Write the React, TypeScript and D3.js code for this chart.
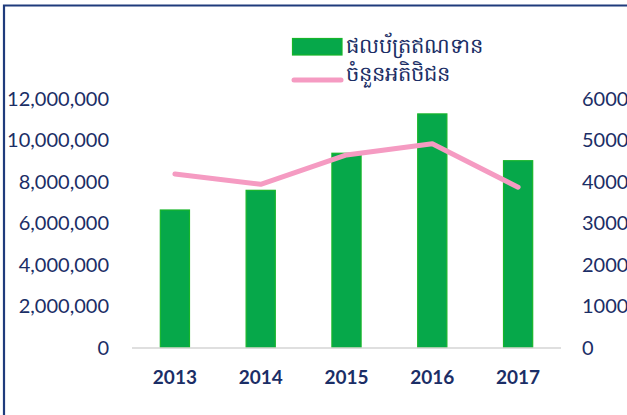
import React, { useEffect, useRef } from 'react';
import * as d3 from 'd3';

const years = ['2013', '2014', '2015', '2016', '2017'];
// loan portfolio (left axis)
const loanValues = [6640000, 7590000, 9380000, 11280000, 9020000];
// number of customers (right axis)
const customerValues = [4190, 3940, 4650, 4920, 3870];
const leftTicks = [0, 2000000, 4000000, 6000000, 8000000, 10000000, 12000000];
const rightTicks = [0, 1000, 2000, 3000, 4000, 5000, 6000];
const legendLabels = ['ផលប័ត្រឥណទាន', 'ចំនួនអតិថិជន'];

const App = () => {
    const svgRef = useRef<SVGSVGElement>(null);

    useEffect(() => {
        const width = 627;
        const height = 415;
        const plot = { left: 132, right: 561, top: 99, bottom: 347.5 };
        const textColor = '#1b2e66';
        const font = 'Lato, "Open Sans", sans-serif';

        const svg = d3.select(svgRef.current);
        svg.selectAll('*').remove();
        svg.attr('width', width).attr('height', height);

        svg.append('rect').attr('width', width).attr('height', height).attr('fill', '#fff');

        // frame (top and left edges visible)
        svg.append('path')
            .attr('d', `M4,${height} V5.5 H${width}`)
            .attr('fill', 'none')
            .attr('stroke', '#1f3b7c')
            .attr('stroke-width', 2.2);

        const x = d3.scaleBand().domain(years).range([plot.left, plot.right]).padding(0);
        const yLeft = d3.scaleLinear().domain([0, 12000000]).range([plot.bottom, plot.top]);
        const yRight = d3.scaleLinear().domain([0, 6000]).range([plot.bottom, plot.top]);
        const barWidth = x.bandwidth() * 0.34;

        // bars
        svg.append('g')
            .selectAll('rect')
            .data(years)
            .enter()
            .append('rect')
            .attr('x', (d) => x(d)! + (x.bandwidth() - barWidth) / 2)
            .attr('y', (_, i) => yLeft(loanValues[i]))
            .attr('width', barWidth)
            .attr('height', (_, i) => plot.bottom - yLeft(loanValues[i]))
            .attr('fill', '#06a84a')
            .attr('stroke', '#17b52a')
            .attr('stroke-width', 1.2);

        // baseline
        svg.append('line')
            .attr('x1', plot.left).attr('x2', plot.right)
            .attr('y1', plot.bottom + 0.5).attr('y2', plot.bottom + 0.5)
            .attr('stroke', '#d4d4d4')
            .attr('stroke-width', 1.6);

        // customers line
        const line = d3.line<number>()
            .x((_, i) => x(years[i])! + x.bandwidth() / 2)
            .y((d) => yRight(d));
        svg.append('path')
            .datum(customerValues)
            .attr('d', line)
            .attr('fill', 'none')
            .attr('stroke', '#f59bc2')
            .attr('stroke-width', 5)
            .attr('stroke-linecap', 'round')
            .attr('stroke-linejoin', 'round');

        // left axis labels
        svg.append('g')
            .selectAll('text')
            .data(leftTicks)
            .enter()
            .append('text')
            .attr('x', 109)
            .attr('y', (d) => yLeft(d))
            .attr('dy', '0.35em')
            .attr('text-anchor', 'end')
            .attr('font-family', font)
            .attr('font-size', 20)
            .attr('fill', textColor)
            .text((d) => d3.format(',')(d));

        // right axis labels
        svg.append('g')
            .selectAll('text')
            .data(rightTicks)
            .enter()
            .append('text')
            .attr('x', 582)
            .attr('y', (d) => yRight(d))
            .attr('dy', '0.35em')
            .attr('font-family', font)
            .attr('font-size', 20)
            .attr('fill', textColor)
            .text((d) => String(d));

        // x labels
        svg.append('g')
            .selectAll('text')
            .data(years)
            .enter()
            .append('text')
            .attr('x', (d) => x(d)! + x.bandwidth() / 2)
            .attr('y', 377)
            .attr('dy', '0.35em')
            .attr('text-anchor', 'middle')
            .attr('font-family', font)
            .attr('font-weight', 'bold')
            .attr('font-size', 19)
            .attr('fill', textColor)
            .text((d) => d);

        // legend
        const legend = svg.append('g');
        legend.append('rect')
            .attr('x', 292.5).attr('y', 38.5)
            .attr('width', 49.5).attr('height', 16.5)
            .attr('fill', '#06a84a')
            .attr('stroke', '#17b52a')
            .attr('stroke-width', 1.2);
        legend.append('line')
            .attr('x1', 294).attr('x2', 341)
            .attr('y1', 80).attr('y2', 80)
            .attr('stroke', '#f59bc2')
            .attr('stroke-width', 5)
            .attr('stroke-linecap', 'round');
        legend.selectAll('text')
            .data(legendLabels)
            .enter()
            .append('text')
            .attr('x', 346)
            .attr('y', (_, i) => (i === 0 ? 46 : 74))
            .attr('dy', '0.35em')
            .attr('font-family', '"Noto Sans", sans-serif')
            .attr('font-size', 21)
            .attr('font-weight', 500)
            .attr('fill', textColor)
            .text((d) => d);
    }, []);

    return (
        <div style={{ position: 'absolute', left: 0, top: 0 }}>
            <svg ref={svgRef}></svg>
        </div>
    );
};

export default App;
